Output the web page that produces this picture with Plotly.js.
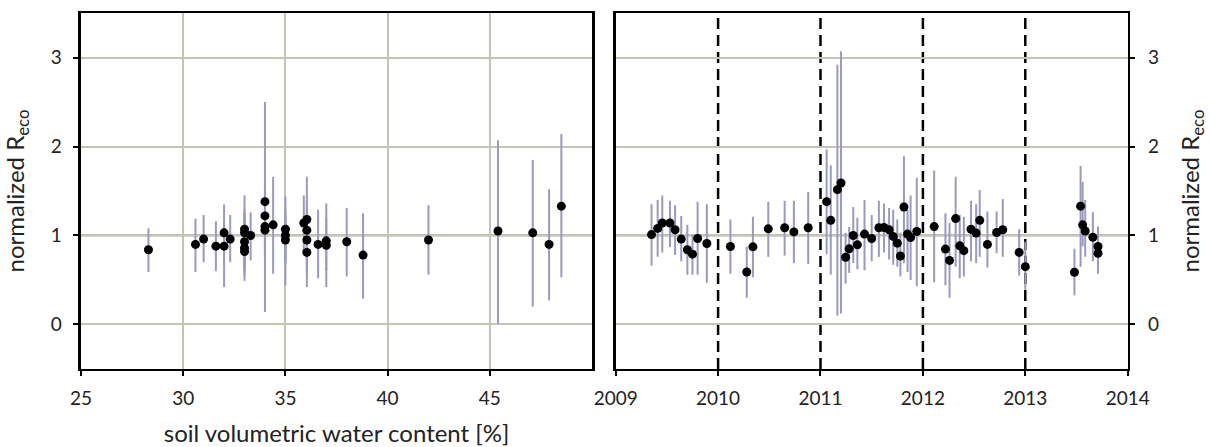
<!DOCTYPE html>
<html>
<head>
<meta charset="utf-8">
<script src="https://cdn.plot.ly/plotly-3.0.1.min.js"></script>
<style>
  html, body { margin: 0; padding: 0; background: #fff; }
  #chart { width: 1210px; height: 447px; }
</style>
</head>
<body>
<div id="chart"></div>
<script>
// Normalized ecosystem respiration against soil water content (left)
// and against time (right), with uncertainty ranges.
var swc      = [28.3, 30.6, 31.0, 31.6, 32.0, 32.0, 32.3, 33.0, 33.0, 33.0, 33.0, 33.0, 33.3, 34.0, 34.0, 34.0, 34.0, 34.4, 35.0, 35.0, 35.0, 35.9, 36.05, 36.05, 36.05, 36.05, 36.6, 37.0, 37.0, 38.0, 38.8, 42.0, 45.4, 47.1, 47.9, 48.5];
var swcReco  = [0.84, 0.90, 0.96, 0.88, 1.03, 0.88, 0.96, 1.07, 1.03, 0.93, 0.86, 0.82, 1.00, 1.38, 1.22, 1.10, 1.06, 1.12, 1.07, 1.00, 0.95, 1.14, 1.18, 1.06, 0.95, 0.81, 0.90, 0.94, 0.89, 0.93, 0.78, 0.95, 1.05, 1.03, 0.90, 1.33];
var swcHigh  = [1.08, 1.19, 1.23, 1.16, 1.35, 1.15, 1.23, 1.45, 1.30, 1.25, 1.20, 1.15, 1.26, 2.50, 1.60, 1.45, 1.35, 1.66, 1.44, 1.30, 1.25, 1.45, 1.66, 1.40, 1.30, 1.10, 1.29, 1.36, 1.20, 1.31, 1.25, 1.34, 2.07, 1.85, 1.52, 2.14];
var swcLow   = [0.59, 0.59, 0.70, 0.60, 0.72, 0.42, 0.70, 0.49, 0.75, 0.65, 0.60, 0.55, 0.72, 0.14, 0.80, 0.75, 0.70, 0.57, 0.44, 0.70, 0.68, 0.80, 0.42, 0.75, 0.65, 0.55, 0.52, 0.42, 0.60, 0.54, 0.29, 0.56, 0.01, 0.20, 0.27, 0.53];

var years    = [2009.35, 2009.41, 2009.455, 2009.53, 2009.58, 2009.64, 2009.70, 2009.75, 2009.80, 2009.89, 2010.12, 2010.28, 2010.34, 2010.49, 2010.65, 2010.74, 2010.88, 2011.06, 2011.10, 2011.165, 2011.20, 2011.245, 2011.28, 2011.32, 2011.36, 2011.43, 2011.50, 2011.57, 2011.62, 2011.67, 2011.71, 2011.75, 2011.78, 2011.815, 2011.85, 2011.88, 2011.94, 2012.11, 2012.22, 2012.26, 2012.32, 2012.36, 2012.40, 2012.47, 2012.52, 2012.555, 2012.63, 2012.72, 2012.78, 2012.94, 2013.0, 2013.48, 2013.54, 2013.56, 2013.585, 2013.66, 2013.71, 2013.71];
var timeReco = [1.01, 1.08, 1.14, 1.14, 1.065, 0.96, 0.84, 0.79, 0.966, 0.91, 0.876, 0.59, 0.873, 1.075, 1.087, 1.04, 1.087, 1.38, 1.17, 1.515, 1.59, 0.756, 0.85, 1.0, 0.895, 1.016, 0.966, 1.087, 1.09, 1.065, 0.99, 0.914, 0.77, 1.32, 1.016, 0.977, 1.045, 1.10, 0.847, 0.72, 1.19, 0.884, 0.83, 1.07, 1.027, 1.17, 0.90, 1.034, 1.065, 0.81, 0.65, 0.587, 1.33, 1.12, 1.05, 0.98, 0.876, 0.80];
var timeHigh = [1.35, 1.40, 1.45, 1.39, 1.34, 1.22, 1.12, 1.01, 1.38, 1.35, 1.18, 0.876, 1.21, 1.38, 1.39, 1.39, 1.49, 1.97, 1.79, 2.92, 3.07, 1.03, 1.095, 1.32, 1.20, 1.40, 1.23, 1.39, 1.36, 1.31, 1.29, 1.18, 1.03, 1.89, 1.29, 1.45, 1.65, 1.73, 1.25, 1.14, 1.66, 1.23, 1.21, 1.39, 1.35, 1.51, 1.27, 1.27, 1.41, 1.07, 0.93, 0.85, 1.78, 1.60, 1.40, 1.26, 1.10, 1.05];
var timeLow  = [0.66, 0.76, 0.81, 0.87, 0.78, 0.71, 0.56, 0.56, 0.56, 0.47, 0.57, 0.30, 0.53, 0.76, 0.775, 0.69, 0.68, 0.79, 0.56, 0.10, 0.125, 0.46, 0.58, 0.69, 0.62, 0.61, 0.71, 0.76, 0.81, 0.73, 0.67, 0.65, 0.54, 0.69, 0.59, 0.50, 0.43, 0.475, 0.44, 0.30, 0.65, 0.52, 0.54, 0.71, 0.69, 0.76, 0.64, 0.80, 0.76, 0.55, 0.39, 0.33, 0.65, 0.88, 0.76, 0.71, 0.57, 0.60];

var swcTicks  = [25, 30, 35, 40, 45];
var yearTicks = [2009, 2010, 2011, 2012, 2013, 2014];
var yearBreaks = [2010, 2011, 2012, 2013];
var yTicks = [0, 1, 2, 3];

function diff(a, b) { return a.map(function (v, i) { return +(v - b[i]).toFixed(4); }); }

var FONT = 'Lato, "Open Sans", sans-serif';
var BAR = '#9a9abd';
var GRID = '#c4c4b6';
var TICKFONT = { family: FONT, size: 19, color: '#222' };
var TITLEFONT = { family: FONT, size: 24, color: '#222' };

function errTrace(x, y, hi, lo, xa, ya) {
  return {
    type: 'scatter', mode: 'markers', x: x, y: y, xaxis: xa, yaxis: ya,
    marker: { color: '#000', size: 9 },
    error_y: { type: 'data', symmetric: false, array: diff(hi, y), arrayminus: diff(y, lo),
               color: BAR, thickness: 2, width: 0 },
    showlegend: false, hoverinfo: 'x+y'
  };
}

var data = [
  errTrace(swc, swcReco, swcHigh, swcLow, 'x', 'y'),
  errTrace(years, timeReco, timeHigh, timeLow, 'x2', 'y2')
];

var axisCommon = {
  showline: true, mirror: true, linecolor: '#000', linewidth: 2.5,
  ticks: 'outside', ticklen: 5, tickwidth: 2, tickcolor: '#000',
  zeroline: false, tickfont: TICKFONT,
  gridcolor: GRID, gridwidth: 2
};

var shapes = [
  { type: 'line', xref: 'x domain', yref: 'y', x0: 0, x1: 1, y0: 1, y1: 1, layer: 'below',
    line: { color: '#5a5a5a', width: 1.5 } },
  { type: 'line', xref: 'x2 domain', yref: 'y2', x0: 0, x1: 1, y0: 1, y1: 1, layer: 'below',
    line: { color: '#5a5a5a', width: 1.5 } }
];
yearBreaks.forEach(function (yr) {
  shapes.push({ type: 'line', xref: 'x2', yref: 'y2 domain', x0: yr, x1: yr, y0: 0, y1: 1, layer: 'below',
    line: { color: '#000', width: 2.5, dash: '11px,6px' } });
});

var layout = {
  width: 1210, height: 447,
  margin: { l: 0, r: 0, t: 0, b: 0 },
  paper_bgcolor: '#fff', plot_bgcolor: '#fff',
  font: { family: FONT, size: 19, color: '#222' },
  xaxis: Object.assign({}, axisCommon, {
    domain: [0.06694, 0.48926], range: [25, 50], tickvals: swcTicks, ticktext: swcTicks.map(String),
    showgrid: true, ticklabelstandoff: 6,
    title: { text: 'soil volumetric water content [%]', font: TITLEFONT },
    anchor: 'y'
  }),
  yaxis: Object.assign({}, axisCommon, {
    domain: [0.1745, 0.9709], range: [-0.5, 3.5], tickvals: yTicks, showgrid: true,
    ticklabelstandoff: 8,
    title: { text: 'normalized R<sub>eco</sub>', font: TITLEFONT },
    anchor: 'x'
  }),
  xaxis2: Object.assign({}, axisCommon, {
    domain: [0.50884, 0.93198], range: [2009, 2014], tickvals: yearTicks, ticktext: yearTicks.map(String),
    showgrid: false, ticklabelstandoff: 6, anchor: 'y2'
  }),
  yaxis2: Object.assign({}, axisCommon, {
    domain: [0.1745, 0.9709], range: [-0.5, 3.5], tickvals: yTicks, showgrid: true,
    side: 'right', anchor: 'x2', ticklabelstandoff: 9,
    title: { text: 'normalized R<sub>eco</sub>', font: TITLEFONT }
  }),
  shapes: shapes
};

Plotly.newPlot('chart', data, layout, { displayModeBar: false, staticPlot: true });
</script>
</body>
</html>
